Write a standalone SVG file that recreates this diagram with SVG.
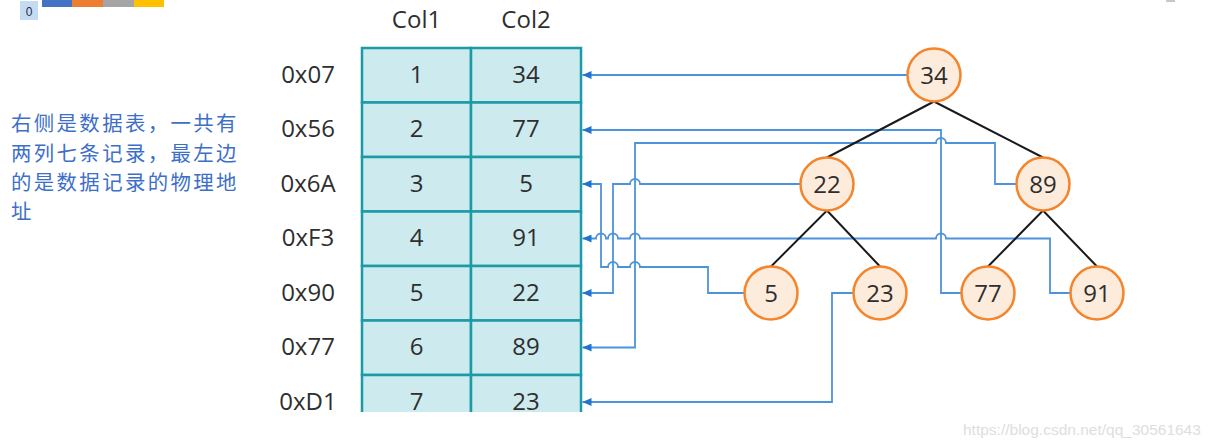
<svg xmlns="http://www.w3.org/2000/svg" width="1216" height="447" viewBox="0 0 1216 447">
<style>
.t{font-family:"Open Sans","Noto Sans","DejaVu Sans",sans-serif;font-size:24px;fill:#2e2e2e;text-anchor:middle}
.cell{fill:#cdeaee;stroke:#1b9aa7;stroke-width:2.5}
.circ{fill:#fdecdc;stroke:#f5842a;stroke-width:2.5}
.edge{stroke:#1a1a1a;stroke-width:2;fill:none}
.con{stroke:#4d93dc;stroke-width:1.8;fill:none;marker-end:url(#arr)}
.note{font-family:"Noto Sans CJK SC","Noto Sans",sans-serif;font-size:20.4px;letter-spacing:2.4px;fill:#3d6fc8}
</style>
<defs>
<marker id="arr" markerUnits="userSpaceOnUse" viewBox="0 0 9 8" refX="9" refY="4" markerWidth="9" markerHeight="8" orient="auto">
<path d="M0,0 L9,4 L0,8 z" fill="#1f74cf"/>
</marker>
</defs>
<rect width="1216" height="447" fill="#fff"/>
<g id="legend">
<rect x="20" y="1" width="18" height="19" fill="#c5dbf2"/>
<text x="29" y="16" font-family="Liberation Sans,sans-serif" font-size="12" fill="#1f2d4d" text-anchor="middle">0</text>
<rect x="42" y="0" width="30" height="7" fill="#4472c4"/>
<rect x="72" y="0" width="31" height="7" fill="#ed7d31"/>
<rect x="103" y="0" width="31" height="7" fill="#a5a5a5"/>
<rect x="134" y="0" width="30" height="7" fill="#ffc000"/>
<rect x="1166" y="0" width="9" height="2" fill="#c8c8c8"/>
</g>
<g id="note">
<text class="note" x="11" y="131">右侧是数据表，一共有</text>
<text class="note" x="11" y="160.5">两列七条记录，最左边</text>
<text class="note" x="11" y="190">的是数据记录的物理地</text>
<text class="note" x="11" y="219">址</text>
</g>
<g id="table">
<text class="t" x="416.5" y="28">Col1</text>
<text class="t" x="526" y="28">Col2</text>
<rect class="cell" x="362" y="48" width="109" height="54.5"/><rect class="cell" x="471" y="48" width="110" height="54.5"/>
<rect class="cell" x="362" y="102.5" width="109" height="54.5"/><rect class="cell" x="471" y="102.5" width="110" height="54.5"/>
<rect class="cell" x="362" y="157" width="109" height="54.5"/><rect class="cell" x="471" y="157" width="110" height="54.5"/>
<rect class="cell" x="362" y="211.5" width="109" height="54.5"/><rect class="cell" x="471" y="211.5" width="110" height="54.5"/>
<rect class="cell" x="362" y="266" width="109" height="54.5"/><rect class="cell" x="471" y="266" width="110" height="54.5"/>
<rect class="cell" x="362" y="320.5" width="109" height="54.5"/><rect class="cell" x="471" y="320.5" width="110" height="54.5"/>
<rect class="cell" x="362" y="375" width="109" height="54.5"/><rect class="cell" x="471" y="375" width="110" height="54.5"/>
<rect x="355" y="412" width="240" height="35" fill="#fff"/>
<text class="t" x="308" y="82.5">0x07</text><text class="t" x="416.5" y="82.5">1</text><text class="t" x="526" y="82.5">34</text>
<text class="t" x="308" y="137">0x56</text><text class="t" x="416.5" y="137">2</text><text class="t" x="526" y="137">77</text>
<text class="t" x="308" y="191.5">0x6A</text><text class="t" x="416.5" y="191.5">3</text><text class="t" x="526" y="191.5">5</text>
<text class="t" x="308" y="246">0xF3</text><text class="t" x="416.5" y="246">4</text><text class="t" x="526" y="246">91</text>
<text class="t" x="308" y="300.5">0x90</text><text class="t" x="416.5" y="300.5">5</text><text class="t" x="526" y="300.5">22</text>
<text class="t" x="308" y="355">0x77</text><text class="t" x="416.5" y="355">6</text><text class="t" x="526" y="355">89</text>
<text class="t" x="308" y="409.5">0xD1</text><text class="t" x="416.5" y="409.5">7</text><text class="t" x="526" y="409.5">23</text>
</g>
<g id="connectors">
<path class="con" d="M907,75 H582.5"/>
<path class="con" d="M962,293 H941 V130 H582.5"/>
<path class="con" d="M1016,184 H995 V143 H946 a5,5 0 0 0 -10,0 H635 V347.5 H582.5"/>
<path class="con" d="M800,184 H640 a5,5 0 0 0 -10,0 H613 V293 H582.5"/>
<path class="con" d="M744,293 H708 V267 H640 a5,5 0 0 0 -10,0 H618 a5,5 0 0 0 -10,0 H601 V184 H582.5"/>
<path class="con" d="M1070,293 H1050 V238.5 H946 a5,5 0 0 0 -10,0 H640 a5,5 0 0 0 -10,0 H618 a5,5 0 0 0 -10,0 H606 a5,5 0 0 0 -10,0 H582.5"/>
<path class="con" d="M853,293 H832 V402 H582.5"/>
</g>
<g id="tree-edges">
<path class="edge" d="M934,101.5 L827,157.5 M934,101.5 L1043,157.5 M827,210.5 L771,266.5 M827,210.5 L880,266.5 M1043,210.5 L988,266.5 M1043,210.5 L1097,266.5"/>
</g>
<g id="n34"><circle class="circ" cx="934" cy="75" r="26.5"/><text class="t" x="934" y="83.5">34</text></g>
<g id="n22"><circle class="circ" cx="827" cy="184" r="26.5"/><text class="t" x="827" y="192.5">22</text></g>
<g id="n89"><circle class="circ" cx="1043" cy="184" r="26.5"/><text class="t" x="1043" y="192.5">89</text></g>
<g id="n5"><circle class="circ" cx="771" cy="293" r="26.5"/><text class="t" x="771" y="301.5">5</text></g>
<g id="n23"><circle class="circ" cx="880" cy="293" r="26.5"/><text class="t" x="880" y="301.5">23</text></g>
<g id="n77"><circle class="circ" cx="988" cy="293" r="26.5"/><text class="t" x="988" y="301.5">77</text></g>
<g id="n91"><circle class="circ" cx="1097" cy="293" r="26.5"/><text class="t" x="1097" y="301.5">91</text></g>
<text x="963" y="435" font-family="Liberation Sans,Arial,sans-serif" font-size="15.5" fill="#dedede">https://blog.csdn.net/qq_30561643</text>
</svg>
